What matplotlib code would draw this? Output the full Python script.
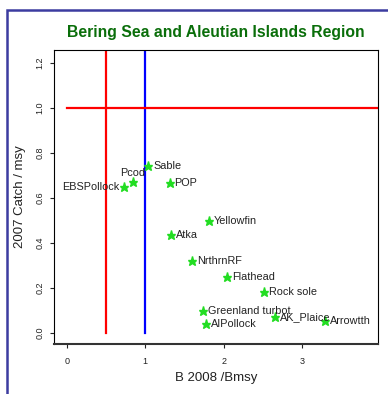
import numpy as np
import matplotlib.pyplot as plt
from matplotlib.patches import Rectangle

plt.rcParams['font.family'] = ['Liberation Sans', 'DejaVu Sans']

# stock names and their (B2008/Bmsy, 2007 catch/msy)
stocks = ['EBSPollock', 'Pcod', 'Sable', 'POP', 'Yellowfin', 'Atka', 'NrthrnRF',
          'Flathead', 'Rock sole', 'Greenland turbot', 'AIPollock', 'AK_Plaice', 'Arrowtth']
b_ratio = [0.73, 0.84, 1.04, 1.31, 1.81, 1.33, 1.60, 2.04, 2.51, 1.74, 1.78, 2.66, 3.29]
catch_ratio = [0.646, 0.668, 0.741, 0.667, 0.498, 0.434, 0.320, 0.249, 0.180, 0.096, 0.040, 0.071, 0.052]
label_side = ['left', 'top'] + ['right'] * 11

xticks = [0, 1, 2, 3]
yticks = [0.0, 0.2, 0.4, 0.6, 0.8, 1.0, 1.2]

fig = plt.figure(figsize=(3.88, 3.94), dpi=100)
ax = fig.add_axes([54/388, 1-343.5/394, 324/388, 293.5/394])

# reference lines
ax.plot([0.5, 0.5], [0, 5], color='red', lw=1.6)
ax.plot([1, 1], [0, 5], color='blue', lw=1.6)
ax.plot([0, 10], [1, 1], color='red', lw=1.6)

ax.plot(b_ratio, catch_ratio, ls='none', marker='*', ms=6.5, color='#22dd22', mec='#22dd22')
for name, x, y, side in zip(stocks, b_ratio, catch_ratio, label_side):
    if side == 'left':
        ax.annotate(name, (x, y), xytext=(-3.5, 0), textcoords='offset points',
                    ha='right', va='center', fontsize=7.8, color='#222222')
    elif side == 'top':
        ax.annotate(name, (x, y), xytext=(0, 6.5), textcoords='offset points',
                    ha='center', va='center', fontsize=7.8, color='#222222')
    else:
        ax.annotate(name, (x, y), xytext=(3.5, 0), textcoords='offset points',
                    ha='left', va='center', fontsize=7.8, color='#222222')

ax.set_xlim(-0.162, 3.966)
ax.set_ylim(-0.048, 1.256)
ax.set_xticks(xticks)
ax.set_xticklabels([str(t) for t in xticks])
ax.set_yticks(yticks)
ax.set_yticklabels([f'{t:.1f}' for t in yticks], rotation=90, va='center')
ax.tick_params(labelsize=6.5, length=3, width=0.8, colors='#222222')
ax.tick_params(axis='x', pad=7)
ax.tick_params(axis='y', pad=4)
for s in ax.spines.values():
    s.set_linewidth(0.8)
ax.spines['bottom'].set_linewidth(1.5)
ax.spines['bottom'].set_color('#333333')

fig.text(216/388, 1-32/394, 'Bering Sea and Aleutian Islands Region', ha='center', va='center',
         fontsize=11.3, fontweight='bold', color='#0a6e0a')
fig.text(216/388, 1-378/394, 'B 2008 /Bmsy', ha='center', va='center', fontsize=9.5, color='#222222')
fig.text(20/388, 1-197/394, '2007 Catch / msy', ha='center', va='center', rotation=90,
         fontsize=9.5, color='#222222')

# page frame
fig.patches.append(Rectangle((7/388, -0.1), 1.2, 1.1 - 10/394, transform=fig.transFigure,
                             fill=False, edgecolor='#3c3ca0', lw=1.8))

fig.savefig('out.png', dpi=100)
